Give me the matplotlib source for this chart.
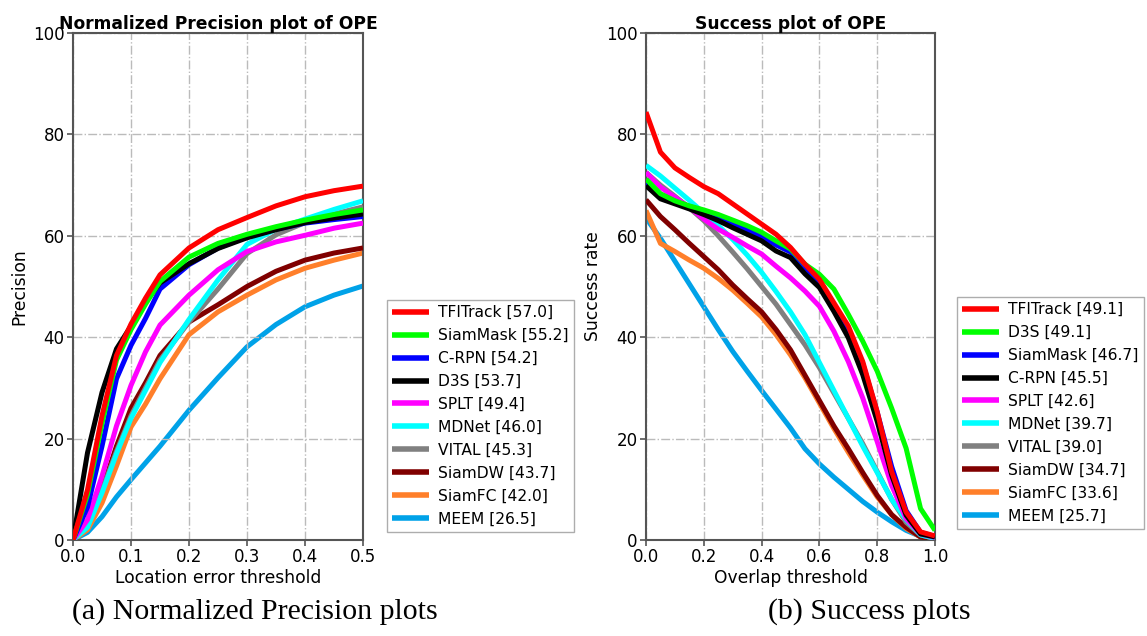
import matplotlib
matplotlib.use("Agg")
import matplotlib.pyplot as plt
import numpy as np

# ---- data ----
colors = ["#ff0000", "#00ff00", "#0000ff", "#000000", "#ff00ff",
          "#00ffff", "#808080", "#800000", "#ff7f2a", "#00a2e8"]
zorders = [10, 9, 7, 8, 6, 5, 4, 3, 2, 1]

# normalized precision plot
prec_x = [0, 0.025, 0.05, 0.075, 0.1, 0.125, 0.15, 0.2, 0.25, 0.3, 0.35, 0.4, 0.45, 0.5]
prec_names = ["TFITrack [57.0]", "SiamMask [55.2]", "C-RPN [54.2]", "D3S [53.7]",
              "SPLT [49.4]", "MDNet [46.0]", "VITAL [45.3]", "SiamDW [43.7]",
              "SiamFC [42.0]", "MEEM [26.5]"]
prec_tfitrack = [0, 9.9, 24.5, 36.4, 42.6, 47.7, 52.3, 57.6, 61.2, 63.6, 65.9, 67.7, 68.9, 69.8]
prec_siammask = [0, 9.0, 23.0, 35.5, 41.5, 46.5, 51.0, 55.8, 58.5, 60.3, 61.8, 63.1, 64.2, 65.1]
prec_crpn = [0, 6.5, 18.5, 31.8, 38.4, 43.7, 49.5, 54.3, 57.6, 59.8, 61.3, 62.5, 63.2, 63.8]
prec_d3s = [0, 17.2, 29.1, 37.7, 42.2, 47.0, 50.7, 54.5, 57.5, 59.6, 61.2, 62.6, 63.5, 64.3]
prec_splt = [0, 4.0, 12.6, 22.5, 30.5, 37.1, 42.4, 48.3, 53.3, 56.9, 58.8, 60.1, 61.5, 62.5]
prec_mdnet = [0, 2.5, 9.3, 17.0, 24.0, 29.5, 35.0, 43.5, 51.3, 58.3, 61.3, 63.3, 65.2, 66.9]
prec_vital = [0, 3.0, 9.8, 17.5, 24.5, 30.0, 35.5, 43.0, 49.5, 56.5, 60.2, 62.6, 64.3, 65.7]
prec_siamdw = [0, 3.2, 9.9, 18.5, 26.0, 31.0, 36.4, 43.0, 46.4, 50.0, 53.0, 55.2, 56.6, 57.6]
prec_siamfc = [0, 2.0, 7.3, 14.6, 22.3, 26.8, 31.8, 40.5, 45.0, 48.3, 51.3, 53.6, 55.2, 56.6]
prec_meem = [0, 1.5, 4.6, 8.5, 11.9, 15.2, 18.5, 25.6, 32.0, 38.1, 42.5, 46.0, 48.3, 50.1]
prec_vals = [prec_tfitrack, prec_siammask, prec_crpn, prec_d3s, prec_splt,
             prec_mdnet, prec_vital, prec_siamdw, prec_siamfc, prec_meem]

# success plot
succ_x = [0, 0.05, 0.1, 0.15, 0.2, 0.25, 0.3, 0.35, 0.4, 0.45, 0.5,
          0.55, 0.6, 0.65, 0.7, 0.75, 0.8, 0.85, 0.9, 0.95, 1.0]
succ_names = ["TFITrack [49.1]", "D3S [49.1]", "SiamMask [46.7]", "C-RPN [45.5]",
              "SPLT [42.6]", "MDNet [39.7]", "VITAL [39.0]", "SiamDW [34.7]",
              "SiamFC [33.6]", "MEEM [25.7]"]
succ_tfitrack = [84.4, 76.5, 73.4, 71.5, 69.7, 68.3, 66.3, 64.3, 62.3, 60.3, 57.7,
                 54.4, 51.4, 46.8, 42.2, 35.2, 25.3, 13.5, 5.5, 1.6, 0.8]
succ_d3s = [71.2, 68.3, 66.9, 65.9, 65.1, 64.2, 63.1, 62.0, 60.7, 59.0, 57.4,
            54.4, 52.4, 49.5, 44.5, 39.2, 33.3, 26.0, 18.1, 6.2, 1.9]
succ_siammask = [70.5, 68.2, 66.8, 65.8, 64.8, 63.7, 62.4, 61.2, 59.9, 58.2, 56.8,
                 53.8, 51.0, 46.5, 41.5, 34.8, 25.2, 14.5, 5.8, 1.5, 0.7]
succ_crpn = [69.9, 67.3, 66.3, 65.3, 64.2, 63.0, 61.6, 60.3, 59.0, 57.0, 55.7,
             52.5, 49.8, 45.1, 39.9, 32.6, 23.4, 12.8, 4.9, 1.2, 0.6]
succ_splt = [72.5, 69.6, 67.6, 65.6, 63.3, 61.3, 59.7, 58.0, 56.4, 54.0, 51.7,
             49.1, 46.1, 41.2, 35.2, 28.0, 19.4, 10.8, 4.2, 1.2, 0.5]
succ_mdnet = [73.9, 71.8, 69.4, 67.0, 64.5, 62.0, 59.3, 56.2, 52.8, 49.0, 45.0,
              40.5, 35.0, 29.5, 24.0, 18.5, 13.3, 8.0, 4.0, 1.0, 0.3]
succ_vital = [72.5, 70.0, 67.8, 65.5, 63.0, 60.0, 56.8, 53.5, 50.0, 46.5, 42.5,
              38.5, 34.0, 29.0, 24.0, 19.0, 13.5, 8.0, 3.5, 1.0, 0.3]
succ_siamdw = [67.1, 63.8, 61.2, 58.5, 55.9, 53.3, 50.3, 47.6, 45.0, 41.5, 37.5,
               32.5, 27.5, 22.5, 18.0, 13.3, 8.8, 5.0, 2.5, 0.6, 0.2]
succ_siamfc = [65.0, 58.5, 56.9, 55.2, 53.6, 51.6, 49.3, 46.7, 44.0, 40.5, 36.5,
               32.0, 27.0, 22.0, 17.3, 12.8, 8.5, 5.0, 2.3, 0.6, 0.2]
succ_meem = [63.5, 59.5, 55.0, 50.5, 46.0, 41.5, 37.2, 33.3, 29.5, 25.8, 22.1,
             18.0, 15.0, 12.4, 10.0, 7.6, 5.5, 3.6, 1.9, 0.7, 0.2]
succ_vals = [succ_tfitrack, succ_d3s, succ_siammask, succ_crpn, succ_splt,
             succ_mdnet, succ_vital, succ_siamdw, succ_siamfc, succ_meem]

plt.rcParams['font.family'] = ['DejaVu Sans']

fig = plt.figure(figsize=(11.47, 6.36), dpi=100)
ax1 = fig.add_axes([73/1147, 1-540/636, 290/1147, 507/636])
ax2 = fig.add_axes([646/1147, 1-540/636, 289/1147, 507/636])


def setup(ax, x, vals, names, xmax, xticks, title, xlabel, ylabel, leg_pos):
    for i in range(len(vals)):
        ax.plot(x, vals[i], color=colors[i], lw=3.6, label=names[i],
                zorder=zorders[i], solid_capstyle='butt')
    ax.set_xlim(0, xmax)
    ax.set_ylim(0, 100)
    ax.set_xticks(xticks)
    ax.set_yticks([0, 20, 40, 60, 80, 100])
    ax.grid(True, linestyle='-.', color='#bbbbbb', lw=1)
    ax.tick_params(labelsize=12, direction='out', length=4, width=1.2,
                   color='#555555', pad=2)
    for s in ax.spines.values():
        s.set_color('#555555')
        s.set_linewidth(1.5)
    ax.set_title(title, fontsize=12.3, fontweight='bold', pad=2)
    ax.set_xlabel(xlabel, fontsize=12.3, labelpad=2)
    ax.set_ylabel(ylabel, fontsize=12.3, labelpad=3)
    leg = fig.legend(*ax.get_legend_handles_labels(), loc='lower left',
                     bbox_to_anchor=leg_pos, fontsize=11.2, handlelength=2.35,
                     labelspacing=0.51, fancybox=False, borderpad=0.35,
                     handletextpad=0.6, borderaxespad=0)
    leg.get_frame().set_edgecolor('#999999')
    leg.get_frame().set_linewidth(1.0)
    for h in leg.get_lines():
        h.set_linewidth(4)


setup(ax1, prec_x, prec_vals, prec_names, 0.5, [0.0, 0.1, 0.2, 0.3, 0.4, 0.5],
      "Normalized Precision plot of OPE", "Location error threshold", "Precision",
      (387/1147, 1-532/636))
setup(ax2, succ_x, succ_vals, succ_names, 1.0, [0.0, 0.2, 0.4, 0.6, 0.8, 1.0],
      "Success plot of OPE", "Overlap threshold", "Success rate",
      (957/1147, 1-529/636))

fig.text(255/1147, 1-612/636, "(a) Normalized Precision plots", ha='center', va='center',
         fontsize=21.5, family='Liberation Serif')
fig.text(869/1147, 1-612/636, "(b) Success plots", ha='center', va='center',
         fontsize=21.5, family='Liberation Serif')

fig.savefig("out.png", dpi=100)
